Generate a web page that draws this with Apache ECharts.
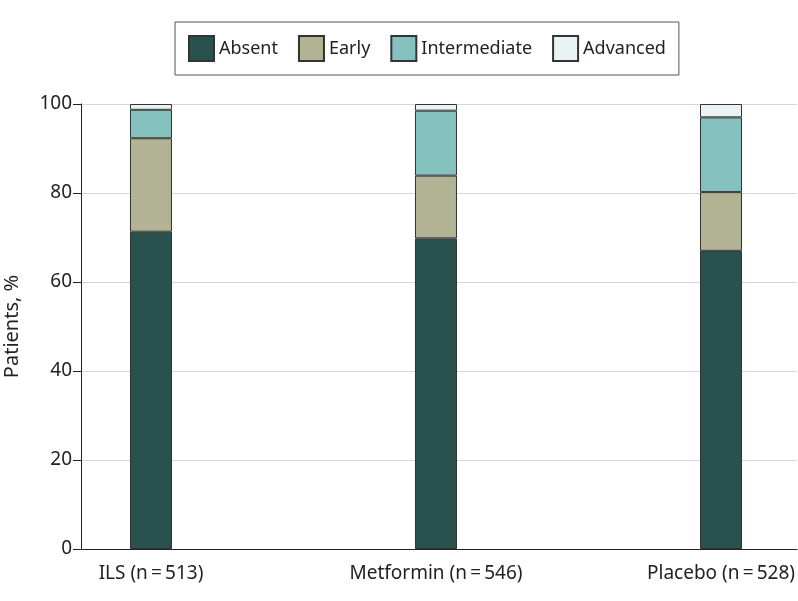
<!DOCTYPE html>
<html>
<head>
<meta charset="utf-8">
<script src="https://cdn.jsdelivr.net/npm/echarts@6/dist/echarts.min.js"></script>
<style>
  html, body { margin: 0; padding: 0; background: #fff; }
  #chart { width: 798px; height: 601px; }
</style>
</head>
<body>
<div id="chart"></div>
<script>
// groups along the x axis
const groups = ['ILS (n\u2009=\u2009513)', 'Metformin (n\u2009=\u2009546)', 'Placebo (n\u2009=\u2009528)']
const groupPos = [0, 1, 2]
// percent of patients per stage
const absent = [71.3, 69.8, 67.0]
const early = [21.0, 14.1, 13.2]
const intermediate = [6.4, 14.6, 16.8]
const advanced = [1.3, 1.5, 3.0]
const yTicks = [0, 20, 40, 60, 80, 100]

const font = 'Noto Sans'
const colors = ['#29524f', '#b1b394', '#84c1bf', '#e9f3f4']

// value first so the stack runs on the y value
function pts (vals) {
  return vals.map((v, i) => [v, groupPos[i]])
}

function barSeries (name, vals) {
  return {
    name: name,
    type: 'bar',
    stack: 'total',
    barWidth: 42,
    encode: { x: 1, y: 0 },
    data: pts(vals),
    itemStyle: { borderColor: '#333', borderWidth: 1 }
  }
}

const myChart = echarts.init(document.getElementById('chart'))
const option = {
  animation: false,
  color: colors,
  textStyle: { fontFamily: font },
  legend: {
    left: 175,
    top: 22,
    padding: [13, 13, 13, 13],
    borderColor: '#555',
    borderWidth: 1,
    itemWidth: 25,
    itemHeight: 25,
    itemGap: 20,
    icon: 'rect',
    textStyle: { fontFamily: font, fontSize: 18, color: '#222' },
    data: ['Absent', 'Early', 'Intermediate', 'Advanced']
  },
  grid: { left: 81, right: 1, top: 104, bottom: 52, containLabel: false, outerBoundsMode: 'none' },
  xAxis: {
    type: 'value',
    min: -0.2456,
    max: 2.2667,
    axisLine: { lineStyle: { color: '#222', width: 1 } },
    axisTick: { show: false },
    splitLine: { show: false },
    axisLabel: {
      customValues: groupPos,
      formatter: v => groups[Math.round(v)],
      fontFamily: font,
      fontSize: 19,
      color: '#222',
      margin: 15
    }
  },
  yAxis: {
    type: 'value',
    min: 0,
    max: 100,
    interval: 20,
    name: 'Patients, %',
    nameLocation: 'middle',
    nameGap: 59,
    nameTextStyle: { fontFamily: font, fontSize: 20, color: '#222' },
    axisLine: { show: true, onZero: false, lineStyle: { color: '#222', width: 1 } },
    axisTick: { show: true, length: 8, lineStyle: { color: '#222' } },
    splitLine: { lineStyle: { color: '#d6d6d6', width: 1 } },
    axisLabel: {
      fontFamily: font,
      fontSize: 19,
      color: '#222',
      margin: 9,
      formatter: v => (yTicks.indexOf(v) >= 0 ? String(v) : '')
    }
  },
  series: [
    barSeries('Absent', absent),
    barSeries('Early', early),
    barSeries('Intermediate', intermediate),
    barSeries('Advanced', advanced)
  ]
}
myChart.setOption(option)
</script>
</body>
</html>
